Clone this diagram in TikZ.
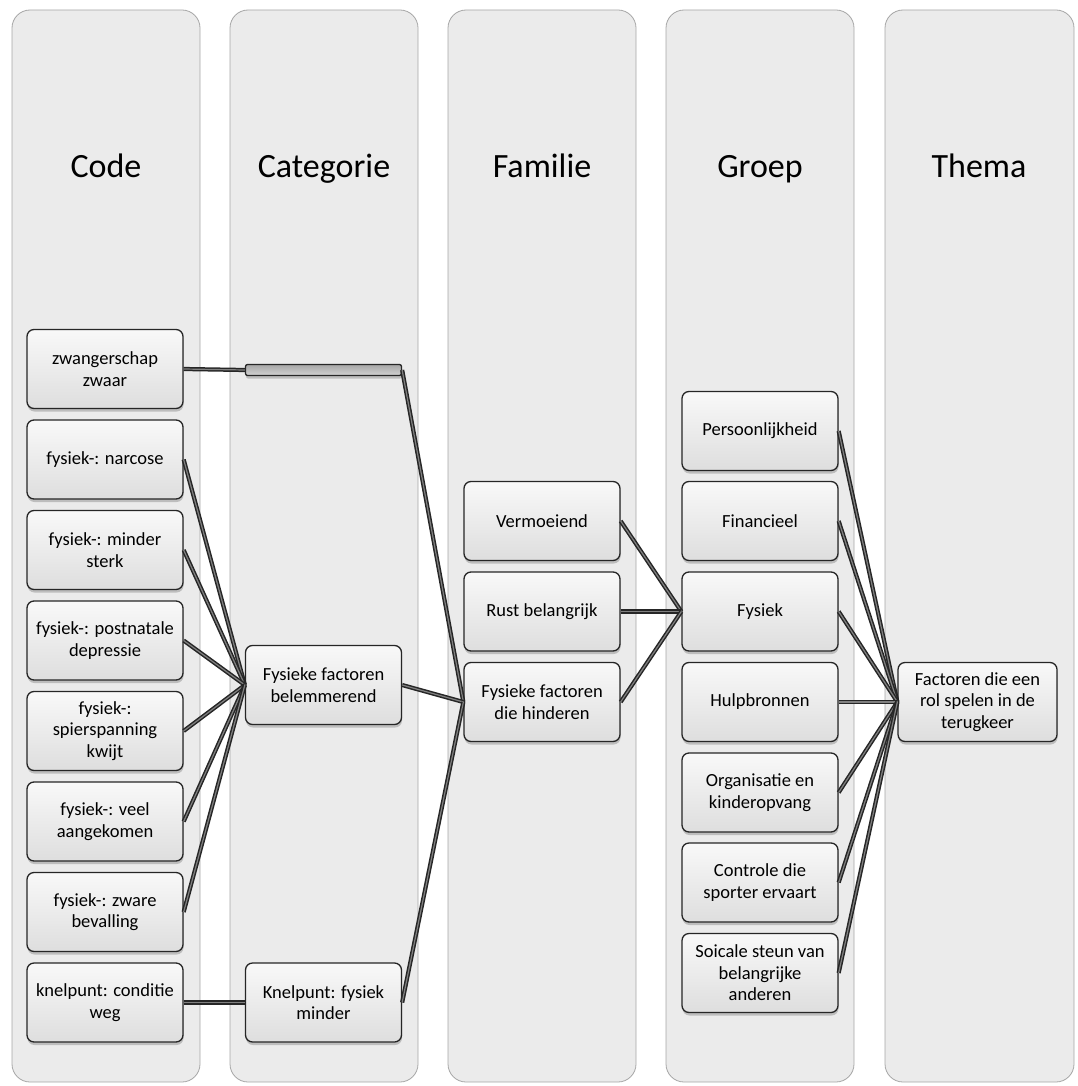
\documentclass[tikz,border=0pt]{standalone}
\usepackage{fontspec}
\setmainfont{Carlito}
\usetikzlibrary{shadows}
\begin{document}
\begin{tikzpicture}[x=1pt,y=-1pt,
 col/.style={fill=gray!16, draw=gray!70, line width=0.8pt, rounded corners=18pt},
 hdr/.style={font=\fontsize{34}{40}\selectfont, inner sep=0pt, anchor=base},
 box/.style={draw=black!85, line width=1.3pt, rounded corners=7pt, top color=gray!5, bottom color=gray!26,
   minimum width=156pt, minimum height=79pt, align=center, font=\fontsize{18.5}{21.5}\selectfont, inner sep=1pt,
   drop shadow={shadow xshift=0.5pt, shadow yshift=-3pt, fill=gray!60, opacity=0.8}},
 con/.style={draw=black!85, line width=1.5pt, double=black!50, double distance=1.2pt}
]
\useasboundingbox (0,0) rectangle (1077,1086);
% columns
\draw[col] (12,10) rectangle (200,1082);
\draw[col] (230,10) rectangle (418,1082);
\draw[col] (448,10) rectangle (636,1082);
\draw[col] (666,10) rectangle (854,1082);
\draw[col] (885,10) rectangle (1074,1082);
% headers
\node[hdr] (h1) at (106,178) {Code};
\node[hdr] (h2) at (324,178) {Categorie};
\node[hdr] (h3) at (542,178) {Familie};
\node[hdr] (h4) at (760,178) {Groep};
\node[hdr] (h5) at (979,178) {Thema};
% code
\node[box] (c1) at (105,369) {zwangerschap\\zwaar};
\node[box] (c2) at (105,459.5) {fysiek-: narcose};
\node[box] (c3) at (105,550) {fysiek-: minder\\sterk};
\node[box] (c4) at (105,640.5) {fysiek-: postnatale\\depressie};
\node[box] (c5) at (105,731) {fysiek-:\\spierspanning\\kwijt};
\node[box] (c6) at (105,821.5) {fysiek-: veel\\aangekomen};
\node[box] (c7) at (105,912) {fysiek-: zware\\bevalling};
\node[box] (c8) at (105,1002.5) {knelpunt: conditie\\weg};
% categorie
\node[box, minimum height=11pt, rounded corners=2pt, inner sep=0pt, top color=gray!70, bottom color=gray!35] (k0) at (323.5,370) {};
\node[box] (k1) at (323.5,685) {Fysieke factoren\\belemmerend};
\node[box] (k2) at (323.5,1002.5) {Knelpunt: fysiek\\minder};
% familie
\node[box] (f1) at (542,521) {Vermoeiend};
\node[box] (f2) at (542,611.5) {Rust belangrijk};
\node[box] (f3) at (542,702) {Fysieke factoren\\die hinderen};
% groep
\node[box] (g1) at (760,431) {Persoonlijkheid};
\node[box] (g2) at (760,521) {Financieel};
\node[box] (g3) at (760,611.5) {Fysiek};
\node[box] (g4) at (760,702) {Hulpbronnen};
\node[box] (g5) at (760,792.5) {Organisatie en\\kinderopvang};
\node[box] (g6) at (760,882.5) {Controle die\\sporter ervaart};
\node[box] (g7) at (760,973) {Soicale steun van\\belangrijke\\anderen};
% thema
\node[box, minimum width=159pt] (t1) at (977.5,702) {Factoren die een\\rol spelen in de\\terugkeer};
% connectors
\draw[con] (c1.east) -- (k0.west);
\foreach \i in {2,...,7} {\draw[con] (c\i.east) -- (k1.west);}
\draw[con] (c8.east) -- (k2.west);
\draw[con] (k0.east) -- (f3.west);
\draw[con] (k1.east) -- (f3.west);
\draw[con] (k2.east) -- (f3.west);
\foreach \i in {1,2,3} {\draw[con] (f\i.east) -- (g3.west);}
\foreach \i in {1,...,7} {\draw[con] (g\i.east) -- (t1.west);}
\end{tikzpicture}
\end{document}
